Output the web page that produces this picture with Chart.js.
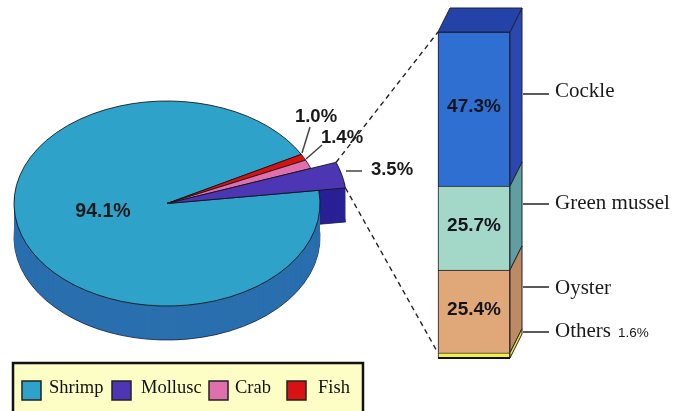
<!DOCTYPE html>
<html>
<head>
<meta charset="utf-8">
<script src="https://cdn.jsdelivr.net/npm/chart.js@4"></script>
<style>
body{margin:0;background:#fff;overflow:hidden;}
canvas{position:absolute;left:0;top:0;}
</style>
</head>
<body>
<canvas id="pieChart" width="680" height="411"></canvas>
<canvas id="barChart" width="680" height="411"></canvas>
<script>
// legend order
const catchNames = ['Shrimp','Mollusc','Crab','Fish'];
const catchValues = [94.1,3.5,1.4,1.0];
const catchColors = ['#2fa2c9','#4c36b4','#e06fae','#d81212'];

const bivalveNames = ['Cockle','Green mussel','Oyster','Others'];
const bivalveValues = [47.3,25.7,25.4,1.6];
const bivalveColors = ['#2f6fd2','#a3d8c8','#e0a878','#f8ee40'];
const bivalveSides = ['#2a48b0','#5f9f9f','#bd8a62','#f4ea30'];

// pie goes clockwise from shrimp, so the small slices are reversed
const sliceOrder = [0,3,2,1];

const squash = 0.67;
const pieDepth = 34;
const barDepthX = 12;
const barDepthY = 24;
const barLeft = 438;

function polar(arc,angle){
    return {
        x: arc.x+Math.cos(angle)*arc.outerRadius,
        y: arc.y+Math.sin(angle)*arc.outerRadius*squash
    };
}

function line(ctx,x1,y1,x2,y2,color,width){
    ctx.strokeStyle=color;
    ctx.lineWidth=width;
    ctx.beginPath();
    ctx.moveTo(x1,y1);
    ctx.lineTo(x2,y2);
    ctx.stroke();
}

function squashAround(ctx,cy){
    ctx.translate(0,cy);
    ctx.scale(1,squash);
    ctx.translate(0,-cy);
}

const pie3d = {
    id:'pie3d',
    afterDatasetUpdate(chart){
        // the mollusc slice sticks out of the pie
        const arcs = chart.getDatasetMeta(0).data;
        arcs[3].outerRadius = 180;
    },
    beforeDatasetsDraw(chart){
        const {ctx} = chart;
        const arcs = chart.getDatasetMeta(0).data;
        const walls = [[arcs[3],'#2a2096'],[arcs[0],'#2a6fae']];
        walls.forEach(([arc,color])=>{
            const saved = arc.options;
            for(let d=pieDepth;d>=1;d--){
                arc.options = Object.assign({},saved,{
                    backgroundColor:color,
                    borderColor:'#10204a',
                    borderWidth:d===pieDepth?1:0
                });
                ctx.save();
                ctx.translate(0,d);
                squashAround(ctx,arc.y);
                arc.draw(ctx);
                ctx.restore();
            }
            arc.options = saved;
        });
        ctx.save();
        squashAround(ctx,arcs[0].y);
    },
    afterDatasetsDraw(chart){
        const {ctx} = chart;
        ctx.restore();
        const mollusc = chart.getDatasetMeta(0).data[3];
        const upper = polar(mollusc,mollusc.startAngle);
        const lower = polar(mollusc,mollusc.endAngle);

        // dashed lines to the stacked bar
        ctx.save();
        ctx.setLineDash([5,4]);
        line(ctx,upper.x,upper.y,barLeft,32,'#222',1.4);
        line(ctx,lower.x,lower.y,barLeft,353,'#222',1.4);
        ctx.restore();

        line(ctx,302,153,310,127,'#444',1.5);
        line(ctx,306,159,322,145,'#444',1.5);
        line(ctx,346,171,362,171,'#444',1.5);

        ctx.fillStyle='#1a1a1a';
        ctx.textBaseline='middle';
        ctx.textAlign='center';
        ctx.font='bold 19.5px "Liberation Sans"';
        ctx.fillText(catchValues[0].toFixed(1)+'%',103,212);
        ctx.font='bold 18.5px "Liberation Sans"';
        ctx.fillText(catchValues[3].toFixed(1)+'%',316,117);
        ctx.fillText(catchValues[2].toFixed(1)+'%',342,138);
        ctx.fillText(catchValues[1].toFixed(1)+'%',392,170);

        // legend box runs off the bottom of the picture
        ctx.fillStyle='#fdfdc6';
        ctx.fillRect(13,363,350,60);
        ctx.strokeStyle='#111';
        ctx.lineWidth=2.5;
        ctx.strokeRect(13,363,350,60);

        const swatchX = [22,112,209,287];
        const textX = [49,141,235,318];
        ctx.textAlign='left';
        ctx.textBaseline='alphabetic';
        ctx.font='18.5px "Liberation Serif"';
        catchNames.forEach((name,i)=>{
            ctx.fillStyle=catchColors[i];
            ctx.fillRect(swatchX[i],381,19,19);
            ctx.strokeStyle='#222';
            ctx.lineWidth=1.5;
            ctx.strokeRect(swatchX[i],381,19,19);
            ctx.fillStyle='#111';
            ctx.fillText(name,textX[i],393);
        });
    }
};

new Chart(document.getElementById('pieChart'),{
    type:'pie',
    data:{
        labels:sliceOrder.map(i=>catchNames[i]),
        datasets:[{
            data:sliceOrder.map(i=>catchValues[i]),
            backgroundColor:sliceOrder.map(i=>catchColors[i]),
            borderColor:'#111',
            borderWidth:1,
            clip:false
        }]
    },
    options:{
        responsive:false,
        animation:false,
        events:[],
        radius:153,
        rotation:82.6,
        layout:{padding:{left:0,right:346,top:0,bottom:4}},
        plugins:{legend:{display:false},tooltip:{enabled:false}}
    },
    plugins:[pie3d]
});

const barLineY = [94,204,287,332];
const barTextY = [91,203,288,331];

const bar3d = {
    id:'bar3d',
    afterDatasetsDraw(chart){
        const {ctx} = chart;
        const metas = bivalveNames.map((n,i)=>chart.getDatasetMeta(bivalveNames.length-1-i).data[0]);

        metas.forEach((b,i)=>{
            const right = b.x+b.width/2;
            ctx.fillStyle=bivalveSides[i];
            ctx.strokeStyle='#223';
            ctx.lineWidth=1;
            ctx.beginPath();
            ctx.moveTo(right,b.y);
            ctx.lineTo(right+barDepthX,b.y-barDepthY);
            ctx.lineTo(right+barDepthX,b.base-barDepthY);
            ctx.lineTo(right,b.base);
            ctx.closePath();
            ctx.fill();
            ctx.stroke();
        });

        // top face
        const first = metas[0];
        const l = first.x-first.width/2, r = first.x+first.width/2;
        ctx.fillStyle='#2443a8';
        ctx.beginPath();
        ctx.moveTo(l,first.y);
        ctx.lineTo(l+barDepthX,first.y-barDepthY);
        ctx.lineTo(r+barDepthX,first.y-barDepthY);
        ctx.lineTo(r,first.y);
        ctx.closePath();
        ctx.fill();
        ctx.stroke();

        // heavier line along the foot of the bar
        const foot = metas[3];
        line(ctx,l,foot.base,r,foot.base,'#111',2);

        ctx.fillStyle='#14141e';
        ctx.font='bold 19px "Liberation Sans"';
        ctx.textAlign='center';
        ctx.textBaseline='middle';
        metas.slice(0,3).forEach((b,i)=>{
            ctx.fillText(bivalveValues[i].toFixed(1)+'%',b.x,(b.y+b.base)/2-2);
        });

        ctx.textAlign='left';
        bivalveNames.forEach((name,i)=>{
            line(ctx,523,barLineY[i],549,barLineY[i],'#222',1.5);
            ctx.fillStyle='#1a1a1a';
            ctx.font='21px "Liberation Serif"';
            ctx.fillText(name,555,barTextY[i]);
        });
        const w = ctx.measureText(bivalveNames[3]).width;
        ctx.font='13.5px "Liberation Sans"';
        ctx.fillText(bivalveValues[3].toFixed(1)+'%',555+w+7,barTextY[3]+2);
    }
};

// first dataset sits at the bottom of the stack
new Chart(document.getElementById('barChart'),{
    type:'bar',
    data:{
        labels:['Mollusc'],
        datasets:bivalveNames.map((name,i)=>({
            label:name,
            data:[bivalveValues[i]],
            backgroundColor:bivalveColors[i],
            borderColor:'#1a1a2a',
            borderWidth:1,
            clip:false
        })).reverse()
    },
    options:{
        responsive:false,
        animation:false,
        events:[],
        layout:{padding:{left:438,right:170,top:32,bottom:53}},
        barPercentage:1,
        categoryPercentage:1,
        scales:{
            x:{display:false,stacked:true},
            y:{display:false,stacked:true,min:0,max:100}
        },
        plugins:{legend:{display:false},tooltip:{enabled:false}}
    },
    plugins:[bar3d]
});
</script>
</body>
</html>
